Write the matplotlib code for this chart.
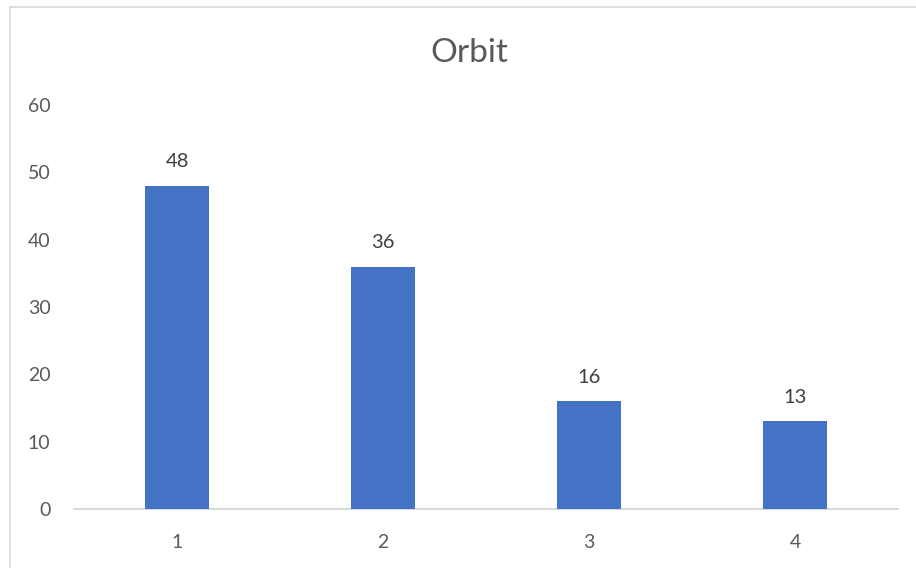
import matplotlib
matplotlib.use("Agg")
import matplotlib.pyplot as plt
from matplotlib.lines import Line2D

categories = ["1", "2", "3", "4"]
values = [48, 36, 16, 13]
y_ticks = [0, 10, 20, 30, 40, 50, 60]

bar_color = "#4472C4"
text_color = "#595959"
axis_color = "#D9D9D9"

plt.rcParams["font.family"] = ["Lato", "DejaVu Sans"]

fig = plt.figure(figsize=(9.16, 5.68), dpi=100)
ax = fig.add_axes([0.0808, 0.1039, 0.8996, 0.7113])

x = list(range(len(categories)))
bars = ax.bar(x, values, width=0.31, color=bar_color, zorder=3)

for rect, v in zip(bars, values):
    ax.annotate(str(v), (rect.get_x() + rect.get_width() / 2, v),
                xytext=(0, 11), textcoords="offset points",
                ha="center", va="bottom", fontsize=14.5, color="#404040")

ax.set_xlim(-0.5, len(categories) - 0.5)
ax.set_ylim(0, 60)
ax.set_yticks(y_ticks)
ax.set_xticks(x)
ax.set_xticklabels(categories)

for side in ("left", "right", "top"):
    ax.spines[side].set_visible(False)
ax.spines["bottom"].set_color(axis_color)
ax.spines["bottom"].set_linewidth(1.5)

ax.tick_params(axis="both", length=0, labelsize=14, colors=text_color)
ax.tick_params(axis="y", pad=17)
ax.tick_params(axis="x", pad=18)

fig.text(0.512, 0.907, "Orbit", ha="center", va="center",
         fontsize=24, color=text_color)

# chart frame
fig.add_artist(Line2D([10 / 916, 1.0], [1 - 7 / 568, 1 - 7 / 568],
                      transform=fig.transFigure, color=axis_color, lw=1.2))
fig.add_artist(Line2D([10 / 916, 10 / 916], [0, 1 - 7 / 568],
                      transform=fig.transFigure, color=axis_color, lw=1.2))

fig.savefig("out.png", dpi=100)
